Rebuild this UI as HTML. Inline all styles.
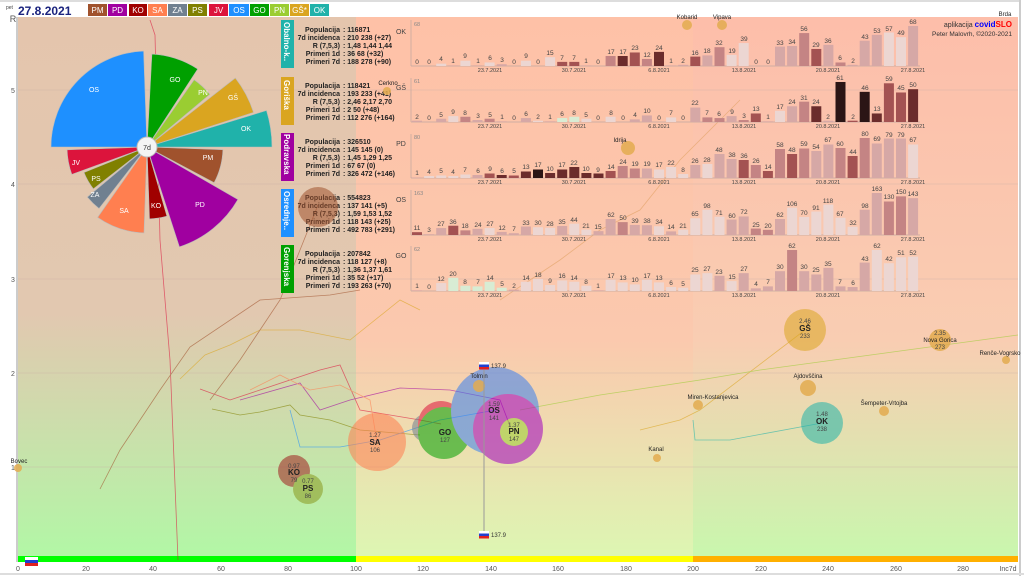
<!DOCTYPE html>
<html><head><meta charset="utf-8"><style>
body{margin:0;background:#fff;width:1024px;height:576px;overflow:hidden}
svg{display:block;font-family:"Liberation Sans","DejaVu Sans",sans-serif}
.v{font-size:6.5px;fill:#444;text-anchor:middle}
.d{font-size:5.5px;fill:#444;text-anchor:middle}
.info{font-size:7px;fill:#222;font-weight:bold}
.ax{font-size:7px;fill:#555}
.a{fill:#ecd6d2}.b{fill:#d6a8a6}.c{fill:#c48484}.dd{fill:#a35252}.e{fill:#6b2c2c}.f{fill:#2b1515}.g{fill:#d8ecd4}
</style></head><body>
<svg width="1024" height="576" viewBox="0 0 1024 576">
<defs>
<linearGradient id="gl" x1="0" y1="0" x2="0" y2="1"><stop offset="0" stop-color="#e4c5ad"/><stop offset="0.55" stop-color="#e2c8b0"/><stop offset="1" stop-color="#b2f7a6"/></linearGradient>
<linearGradient id="gm" x1="0" y1="0" x2="0" y2="1"><stop offset="0" stop-color="#fec1a7"/><stop offset="0.6" stop-color="#fbc9ae"/><stop offset="1" stop-color="#ddf6b2"/></linearGradient>
<linearGradient id="gr" x1="0" y1="0" x2="0" y2="1"><stop offset="0" stop-color="#fdbeaa"/><stop offset="0.6" stop-color="#f9cdb2"/><stop offset="1" stop-color="#c9f7ae"/></linearGradient>
</defs>
<rect x="0" y="0" width="1024" height="576" fill="#fff"/>
<rect x="18" y="17" width="338" height="539" fill="url(#gl)"/>
<rect x="356" y="17" width="337" height="539" fill="url(#gm)"/>
<rect x="693" y="17" width="325" height="539" fill="url(#gr)"/>
<rect x="18" y="556" width="338" height="6" fill="#00ff00"/>
<rect x="356" y="556" width="337" height="6" fill="#ffff00"/>
<rect x="693" y="556" width="325" height="6" fill="#ffb000"/>
<rect x="25" y="557" width="13" height="3" fill="#fff"/><rect x="25" y="560" width="13" height="3" fill="#1e40d0"/><rect x="25" y="563" width="13" height="3" fill="#e02020"/>
<line x1="0" y1="1" x2="1020" y2="1" stroke="#bbb"/><line x1="1020" y1="0" x2="1020" y2="576" stroke="#ccc" stroke-width="2"/><line x1="0" y1="574" x2="1024" y2="574" stroke="#ddd" stroke-width="2"/>
<line x1="17" y1="17" x2="17" y2="562" stroke="#999"/>
<g stroke="#c9b0a8" stroke-width="0.6" opacity="0.7">
<line x1="18" y1="90" x2="1018" y2="90"/><line x1="18" y1="184" x2="1018" y2="184"/><line x1="18" y1="279" x2="1018" y2="279"/><line x1="18" y1="373" x2="1018" y2="373"/><line x1="18" y1="467" x2="1018" y2="467"/>
</g>
<g class="ax" text-anchor="middle">
<text x="13" y="22" font-size="9">R</text><text x="13" y="93">5</text><text x="13" y="187">4</text><text x="13" y="282">3</text><text x="13" y="376">2</text><text x="13" y="470">1</text>
<text x="18" y="571">0</text><text x="86" y="571">20</text><text x="153" y="571">40</text><text x="221" y="571">60</text><text x="288" y="571">80</text><text x="356" y="571">100</text><text x="423" y="571">120</text><text x="491" y="571">140</text><text x="558" y="571">160</text><text x="626" y="571">180</text><text x="693" y="571">200</text><text x="761" y="571">220</text><text x="828" y="571">240</text><text x="896" y="571">260</text><text x="963" y="571">280</text><text x="1008" y="571">Inc7d</text>
</g>
<!-- header legend -->
<text x="6" y="9" font-size="5" fill="#444">pet</text>
<text x="18" y="15" font-size="12" font-weight="bold" fill="#1a237e">27.8.2021</text>
<g font-size="8" fill="#fff" text-anchor="middle">
<rect x="88" y="4" width="19" height="12" fill="#a0522d"/><text x="97.5" y="13">PM</text>
<rect x="108" y="4" width="19" height="12" fill="#a000a0"/><text x="117.5" y="13">PD</text>
<rect x="129" y="4" width="18" height="12" fill="#a00000"/><text x="138" y="13">KO</text>
<rect x="148" y="4" width="19" height="12" fill="#ff7f50"/><text x="157.5" y="13">SA</text>
<rect x="168" y="4" width="19" height="12" fill="#708090"/><text x="177.5" y="13">ZA</text>
<rect x="188" y="4" width="19" height="12" fill="#808000"/><text x="197.5" y="13">PS</text>
<rect x="209" y="4" width="19" height="12" fill="#dc143c"/><text x="218.5" y="13">JV</text>
<rect x="229" y="4" width="20" height="12" fill="#1e90ff"/><text x="239" y="13">OS</text>
<rect x="250" y="4" width="19" height="12" fill="#00a000"/><text x="259.5" y="13">GO</text>
<rect x="270" y="4" width="19" height="12" fill="#9acd32"/><text x="279.5" y="13">PN</text>
<rect x="290" y="4" width="19" height="12" fill="#daa520"/><text x="299.5" y="13">GŠ*</text>
<rect x="310" y="4" width="19" height="12" fill="#20b2aa"/><text x="319.5" y="13">OK</text>
</g>
<!-- trajectories -->
<g fill="none" stroke-width="0.8" opacity="0.6">
<polyline stroke="#dc143c" points="150,20 155,35 160,240 170,360 178,560"/>
<polyline stroke="#a0522d" points="100,489 120,450 160,390 190,347 260,300 330,295 360,290"/>
<polyline stroke="#daa520" points="180,379 205,355 230,345 260,330 300,330 350,340 400,300 420,310"/>
<polyline stroke="#dc143c" points="200,389 230,400 260,390 290,380 320,370 340,365 360,410 420,420 441,424"/>
<polyline stroke="#808000" points="212,409 240,415 260,412 290,405 300,415 330,420 360,430 420,435"/>
<polyline stroke="#1e90ff" points="290,410 300,447 340,447 380,440 440,420 496,410"/>
<polyline stroke="#a000a0" points="240,400 300,383 320,410 350,400 400,388 450,390 500,400 510,426"/>
<polyline stroke="#ff7f50" points="250,390 280,375 310,390 340,385 370,400 377,442"/>
<polyline stroke="#20b2aa" points="693,420 695,440 730,440 822,423"/>
<polyline stroke="#daa520" points="640,430 680,420 700,410 805,330"/>
<polyline stroke="#9acd32" points="520,410 600,395 700,380 760,370 1018,335"/>
<polyline stroke="#e0a060" points="500,300 560,260 600,230 640,210 680,160 720,120 740,100"/>
<polyline stroke="#a0522d" points="318,205 300,250 280,300 260,330 240,360 210,400"/>
</g>
<!-- region info panels -->
<g font-size="8" font-weight="bold" fill="#fff">
<rect x="281" y="20" width="13" height="48" fill="#20b2aa"/><text transform="translate(284,22) rotate(90)">Obalno-k..</text>
<rect x="281" y="77" width="13" height="48" fill="#daa520"/><text transform="translate(284,80) rotate(90)">Goriška</text>
<rect x="281" y="133" width="13" height="48" fill="#a000a0"/><text transform="translate(284,134) rotate(90)">Podravska</text>
<rect x="281" y="189" width="13" height="48" fill="#1e90ff"/><text transform="translate(284,191) rotate(90)">Osrednje..</text>
<rect x="281" y="245" width="13" height="48" fill="#00a000"/><text transform="translate(284,247) rotate(90)">Gorenjska</text>
</g>
<g class="info">
<g text-anchor="end"><text x="340" y="32">Populacija</text><text x="340" y="40">7d incidenca</text><text x="340" y="48">R (7,5,3)</text><text x="340" y="56">Primeri 1d</text><text x="340" y="64">Primeri 7d</text></g>
<text x="343" y="32">: 116871</text><text x="343" y="40">: 210 238 (+27)</text><text x="343" y="48">: 1,48 1,44 1,44</text><text x="343" y="56">: 36 68 (+32)</text><text x="343" y="64">: 188 278 (+90)</text>
<g text-anchor="end"><text x="340" y="88">Populacija</text><text x="340" y="96">7d incidenca</text><text x="340" y="104">R (7,5,3)</text><text x="340" y="112">Primeri 1d</text><text x="340" y="120">Primeri 7d</text></g>
<text x="343" y="88">: 118421</text><text x="343" y="96">: 193 233 (+41)</text><text x="343" y="104">: 2,46 2,17 2,70</text><text x="343" y="112">: 2 50 (+48)</text><text x="343" y="120">: 112 276 (+164)</text>
<g text-anchor="end"><text x="340" y="144">Populacija</text><text x="340" y="152">7d incidenca</text><text x="340" y="160">R (7,5,3)</text><text x="340" y="168">Primeri 1d</text><text x="340" y="176">Primeri 7d</text></g>
<text x="343" y="144">: 326510</text><text x="343" y="152">: 145 145 (0)</text><text x="343" y="160">: 1,45 1,29 1,25</text><text x="343" y="168">: 67 67 (0)</text><text x="343" y="176">: 326 472 (+146)</text>
<g text-anchor="end"><text x="340" y="200">Populacija</text><text x="340" y="208">7d incidenca</text><text x="340" y="216">R (7,5,3)</text><text x="340" y="224">Primeri 1d</text><text x="340" y="232">Primeri 7d</text></g>
<text x="343" y="200">: 554823</text><text x="343" y="208">: 137 141 (+5)</text><text x="343" y="216">: 1,59 1,53 1,52</text><text x="343" y="224">: 118 143 (+25)</text><text x="343" y="232">: 492 783 (+291)</text>
<g text-anchor="end"><text x="340" y="256">Populacija</text><text x="340" y="264">7d incidenca</text><text x="340" y="272">R (7,5,3)</text><text x="340" y="280">Primeri 1d</text><text x="340" y="288">Primeri 7d</text></g>
<text x="343" y="256">: 207842</text><text x="343" y="264">: 118 127 (+8)</text><text x="343" y="272">: 1,36 1,37 1,61</text><text x="343" y="280">: 35 52 (+17)</text><text x="343" y="288">: 193 263 (+70)</text>
</g>
<!-- pie -->
<g stroke="#bbb" stroke-width="0.6">
<path d="M147,147 L51,147 A96,96 0 0 1 143.6,51.1 Z" fill="#1e90ff"/>
<path d="M147,147 L151.9,54.1 A93,93 0 0 1 197.7,69 Z" fill="#00a000"/>
<path d="M147,147 L194.1,79.8 A82,82 0 0 1 209.8,94.3 Z" fill="#9acd32"/>
<path d="M147,147 L235.3,78 A112,112 0 0 1 253.5,112.4 Z" fill="#daa520"/>
<path d="M147,147 L266.5,110.5 A125,125 0 0 1 272,147 Z" fill="#20b2aa"/>
<path d="M147,147 L222.9,149.7 A76,76 0 0 1 214.1,182.7 Z" fill="#a0522d"/>
<path d="M147,147 L237.9,199.5 A105,105 0 0 1 179.4,246.9 Z" fill="#a000a0"/>
<path d="M147,147 L166.9,216.2 A72,72 0 0 1 149.5,218.9 Z" fill="#a00000"/>
<path d="M147,147 L144,232.9 A86,86 0 0 1 97.6,217.4 Z" fill="#ff7f50"/>
<path d="M147,147 L99,208.5 A78,78 0 0 1 87.3,197.1 Z" fill="#708090"/>
<path d="M147,147 L93.4,188.9 A68,68 0 0 1 84,172.5 Z" fill="#808000"/>
<path d="M147,147 L71.8,174.4 A80,80 0 0 1 67.1,149.8 Z" fill="#dc143c"/>
</g>
<g font-size="7" fill="#fff" text-anchor="middle">
<text x="94" y="92">OS</text><text x="175" y="82">GO</text><text x="203" y="95">PN</text><text x="233" y="100">GŠ</text><text x="246" y="131">OK</text><text x="208" y="160">PM</text><text x="200" y="207">PD</text><text x="156" y="208">KO</text><text x="124" y="213">SA</text><text x="95" y="197">ZA</text><text x="96" y="181">PS</text><text x="76" y="165">JV</text>
</g>
<circle cx="147" cy="147" r="10" fill="#f4f4f4" stroke="#bbb"/><text x="147" y="150" font-size="7" text-anchor="middle" fill="#333">7d</text>
<!-- bubbles -->
<circle cx="318" cy="207" r="20" fill="#a0522d" opacity="0.55"/>
<g opacity="0.55">
<circle cx="294" cy="471" r="16" fill="#a02020"/>
<circle cx="308" cy="489" r="15" fill="#8a9a20"/>
<circle cx="377" cy="442" r="29" fill="#ff7f50"/>
<circle cx="426" cy="428" r="14" fill="#708090"/>
<circle cx="441" cy="424" r="23" fill="#dc143c"/>
<circle cx="444" cy="433" r="26" fill="#00a000"/>
<circle cx="495" cy="411" r="44" fill="#3a80f0"/>
<circle cx="508" cy="429" r="35" fill="#a000c0"/>
<circle cx="514" cy="432" r="14" fill="#9acd32"/>
<circle cx="805" cy="330" r="21" fill="#daa520"/>
<circle cx="822" cy="423" r="21" fill="#20b2aa"/>
</g>
<g fill="#e3ac50" opacity="0.85">
<circle cx="18" cy="468" r="4"/><circle cx="479" cy="386" r="6"/><circle cx="657" cy="458" r="4"/><circle cx="698" cy="405" r="5"/><circle cx="808" cy="388" r="8"/><circle cx="884" cy="411" r="5"/><circle cx="940" cy="340" r="11"/><circle cx="1006" cy="360" r="4"/><circle cx="687" cy="25" r="5"/><circle cx="722" cy="25" r="5"/><circle cx="387" cy="91" r="4"/><circle cx="628" cy="148" r="7"/>
</g>
<g font-size="6" fill="#222" text-anchor="middle">
<text x="19" y="463">Bovec</text><text x="479" y="378">Tolmin</text><text x="656" y="451">Kanal</text><text x="713" y="399">Miren-Kostanjevica</text><text x="808" y="378">Ajdovščina</text><text x="884" y="405">Šempeter-Vrtojba</text><text x="940" y="342">Nova Gorica</text><text x="1000" y="355">Renče-Vogrsko</text><text x="687" y="19">Kobarid</text><text x="722" y="19">Vipava</text><text x="388" y="85">Cerkno</text><text x="620" y="142">Idrija</text><text x="1005" y="16">Brda</text>
<text x="294" y="468" fill="#444">0.97</text><text x="294" y="475" font-size="8" font-weight="bold">KO</text><text x="294" y="482" fill="#444">79</text>
<text x="308" y="483" fill="#444">0.77</text><text x="308" y="491" font-size="8" font-weight="bold">PS</text><text x="308" y="498" fill="#444">86</text>
<text x="375" y="437" fill="#444">1.27</text><text x="375" y="445" font-size="8" font-weight="bold">SA</text><text x="375" y="452" fill="#444">106</text>
<text x="445" y="435" font-size="8" font-weight="bold">GO</text><text x="445" y="442" fill="#444">127</text>
<text x="494" y="406" fill="#444">1.59</text><text x="494" y="413" font-size="8" font-weight="bold">OS</text><text x="494" y="420" fill="#444">141</text>
<text x="514" y="427" fill="#444">1.37</text><text x="514" y="434" font-size="8" font-weight="bold">PN</text><text x="514" y="441" fill="#444">147</text>
<text x="805" y="323" fill="#444">2.46</text><text x="805" y="331" font-size="8" font-weight="bold">GŠ</text><text x="805" y="338" fill="#444">233</text>
<text x="822" y="416" fill="#444">1.48</text><text x="822" y="424" font-size="8" font-weight="bold">OK</text><text x="822" y="431" fill="#444">238</text>
<text x="940" y="335" fill="#444">2.35</text><text x="940" y="349" fill="#444">273</text>
</g>
<line x1="484" y1="370" x2="484" y2="532" stroke="#999"/>
<g><rect x="479" y="362" width="10" height="2.5" fill="#fff"/><rect x="479" y="364.5" width="10" height="2.5" fill="#2040d0"/><rect x="479" y="367" width="10" height="2.5" fill="#e02020"/>
<rect x="479" y="531" width="10" height="2.5" fill="#fff"/><rect x="479" y="533.5" width="10" height="2.5" fill="#2040d0"/><rect x="479" y="536" width="10" height="2.5" fill="#e02020"/></g>
<text x="491" y="368" font-size="6" fill="#333">137.9</text><text x="491" y="537" font-size="6" fill="#333">137.9</text>
<text x="1012" y="27" font-size="7" fill="#333" text-anchor="end">aplikacija <tspan fill="#0000ff" font-weight="bold" font-size="8">covid</tspan><tspan fill="#ff0000" font-weight="bold" font-size="8">SLO</tspan></text>
<text x="1012" y="36" font-size="6.5" fill="#333" text-anchor="end">Peter Malovrh, ©2020-2021</text>

<!-- bar panels: axes -->
<g stroke="#bfa7a0" stroke-width="0.7">
<line x1="411" y1="20" x2="411" y2="66"/><line x1="411" y1="66" x2="920" y2="66"/>
<line x1="411" y1="78" x2="411" y2="122"/><line x1="411" y1="122" x2="920" y2="122"/>
<line x1="411" y1="134" x2="411" y2="178"/><line x1="411" y1="178" x2="920" y2="178"/>
<line x1="411" y1="190" x2="411" y2="235"/><line x1="411" y1="235" x2="920" y2="235"/>
<line x1="411" y1="246" x2="411" y2="291"/><line x1="411" y1="291" x2="920" y2="291"/>
</g>
<g font-size="7" fill="#444" text-anchor="middle"><text x="401" y="34">OK</text><text x="401" y="90">GŠ</text><text x="401" y="146">PD</text><text x="401" y="202">OS</text><text x="401" y="258">GO</text></g>
<g font-size="5.5" fill="#888"><text x="414" y="26">68</text><text x="414" y="83">61</text><text x="414" y="139">80</text><text x="414" y="195">163</text><text x="414" y="251">62</text></g>
<g class="d">
<text x="490" y="72">23.7.2021</text><text x="574" y="72">30.7.2021</text><text x="659" y="72">6.8.2021</text><text x="744" y="72">13.8.2021</text><text x="828" y="72">20.8.2021</text><text x="913" y="72">27.8.2021</text>
<text x="490" y="128">23.7.2021</text><text x="574" y="128">30.7.2021</text><text x="659" y="128">6.8.2021</text><text x="744" y="128">13.8.2021</text><text x="828" y="128">20.8.2021</text><text x="913" y="128">27.8.2021</text>
<text x="490" y="184">23.7.2021</text><text x="574" y="184">30.7.2021</text><text x="659" y="184">6.8.2021</text><text x="744" y="184">13.8.2021</text><text x="828" y="184">20.8.2021</text><text x="913" y="184">27.8.2021</text>
<text x="490" y="241">23.7.2021</text><text x="574" y="241">30.7.2021</text><text x="659" y="241">6.8.2021</text><text x="744" y="241">13.8.2021</text><text x="828" y="241">20.8.2021</text><text x="913" y="241">27.8.2021</text>
<text x="490" y="297">23.7.2021</text><text x="574" y="297">30.7.2021</text><text x="659" y="297">6.8.2021</text><text x="744" y="297">13.8.2021</text><text x="828" y="297">20.8.2021</text><text x="913" y="297">27.8.2021</text>
</g>

<!-- OK panel -->
<g transform="translate(-5,66) scale(1,-0.588)" class="b">
<rect x="417" width="10" height="0"/><rect x="429.1" width="10" height="0"/><rect x="441.2" width="10" height="4" class="a"/><rect x="453.3" width="10" height="1"/><rect x="465.4" width="10" height="9" class="a"/><rect x="477.5" width="10" height="1"/><rect x="489.6" width="10" height="6" class="a"/><rect x="501.7" width="10" height="3"/><rect x="513.8" width="10" height="0"/><rect x="525.9" width="10" height="9" class="a"/><rect x="538" width="10" height="0"/><rect x="550.1" width="10" height="15" class="a"/><rect x="562.2" width="10" height="7" class="dd"/><rect x="574.3" width="10" height="7" class="dd"/><rect x="586.4" width="10" height="1"/><rect x="598.5" width="10" height="0"/><rect x="610.6" width="10" height="17" class="c"/><rect x="622.7" width="10" height="17" class="e"/><rect x="634.8" width="10" height="23" class="dd"/><rect x="646.9" width="10" height="12" class="c"/><rect x="659" width="10" height="24" class="e"/><rect x="671.1" width="10" height="1"/><rect x="683.2" width="10" height="2"/><rect x="695.3" width="10" height="16" class="dd"/><rect x="707.4" width="10" height="18"/><rect x="719.5" width="10" height="32" class="c"/><rect x="731.6" width="10" height="19" class="a"/><rect x="743.7" width="10" height="39" class="a"/><rect x="755.8" width="10" height="0"/><rect x="767.9" width="10" height="0"/><rect x="780" width="10" height="33"/><rect x="792.1" width="10" height="34"/><rect x="804.2" width="10" height="56" class="c"/><rect x="816.3" width="10" height="29" class="dd"/><rect x="828.4" width="10" height="36"/><rect x="840.5" width="10" height="6" class="c"/><rect x="852.6" width="10" height="2"/><rect x="864.7" width="10" height="43"/><rect x="876.8" width="10" height="53"/><rect x="888.9" width="10" height="57" class="a"/><rect x="901" width="10" height="49" class="a"/><rect x="913.1" width="10" height="68"/>
</g>
<g class="v">
<text x="417" y="64">0</text><text x="429" y="64">0</text><text x="441" y="61">4</text><text x="453" y="63">1</text><text x="465" y="58">9</text><text x="478" y="63">1</text><text x="490" y="60">6</text><text x="502" y="62">3</text><text x="514" y="64">0</text><text x="526" y="58">9</text><text x="538" y="64">0</text><text x="550" y="55">15</text><text x="562" y="60">7</text><text x="574" y="60">7</text><text x="586" y="63">1</text><text x="598" y="64">0</text><text x="611" y="54">17</text><text x="623" y="54">17</text><text x="635" y="50">23</text><text x="647" y="57">12</text><text x="659" y="50">24</text><text x="671" y="63">1</text><text x="683" y="63">2</text><text x="695" y="55">16</text><text x="707" y="53">18</text><text x="719" y="45">32</text><text x="732" y="53">19</text><text x="744" y="41">39</text><text x="756" y="64">0</text><text x="768" y="64">0</text><text x="780" y="45">33</text><text x="792" y="44">34</text><text x="804" y="31">56</text><text x="816" y="47">29</text><text x="828" y="43">36</text><text x="840" y="60">6</text><text x="853" y="63">2</text><text x="865" y="39">43</text><text x="877" y="33">53</text><text x="889" y="31">57</text><text x="901" y="35">49</text><text x="913" y="24">68</text>
</g>

<!-- GS panel -->
<g transform="translate(-5,122) scale(1,-0.656)" class="b">
<rect x="417" width="10" height="2"/><rect x="429.1" width="10" height="0"/><rect x="441.2" width="10" height="5"/><rect x="453.3" width="10" height="9" class="a"/><rect x="465.4" width="10" height="8" class="c"/><rect x="477.5" width="10" height="3"/><rect x="489.6" width="10" height="5" class="c"/><rect x="501.7" width="10" height="1"/><rect x="513.8" width="10" height="0"/><rect x="525.9" width="10" height="6"/><rect x="538" width="10" height="2" class="a"/><rect x="550.1" width="10" height="1"/><rect x="562.2" width="10" height="6" class="g"/><rect x="574.3" width="10" height="8" class="g"/><rect x="586.4" width="10" height="5" class="a"/><rect x="598.5" width="10" height="0"/><rect x="610.6" width="10" height="8" class="a"/><rect x="622.7" width="10" height="0"/><rect x="634.8" width="10" height="4"/><rect x="646.9" width="10" height="10"/><rect x="659" width="10" height="0"/><rect x="671.1" width="10" height="7" class="a"/><rect x="683.2" width="10" height="0"/><rect x="695.3" width="10" height="22"/><rect x="707.4" width="10" height="7" class="c"/><rect x="719.5" width="10" height="6" class="c"/><rect x="731.6" width="10" height="9"/><rect x="743.7" width="10" height="3" class="c"/><rect x="755.8" width="10" height="13" class="dd"/><rect x="767.9" width="10" height="1"/><rect x="780" width="10" height="17" class="a"/><rect x="792.1" width="10" height="24"/><rect x="804.2" width="10" height="31" class="c"/><rect x="816.3" width="10" height="24" class="e"/><rect x="828.4" width="10" height="2"/><rect x="840.5" width="10" height="61" class="f"/><rect x="852.6" width="10" height="2" class="dd"/><rect x="864.7" width="10" height="46" class="f"/><rect x="876.8" width="10" height="13" class="e"/><rect x="888.9" width="10" height="59" class="dd"/><rect x="901" width="10" height="45" class="dd"/><rect x="913.1" width="10" height="50" class="e"/>
</g>
<g class="v">
<text x="417" y="119">2</text><text x="429" y="120">0</text><text x="441" y="117">5</text><text x="453" y="114">9</text><text x="465" y="115">8</text><text x="478" y="118">3</text><text x="490" y="117">5</text><text x="502" y="119">1</text><text x="514" y="120">0</text><text x="526" y="116">6</text><text x="538" y="119">2</text><text x="550" y="119">1</text><text x="562" y="116">6</text><text x="574" y="115">8</text><text x="586" y="117">5</text><text x="598" y="120">0</text><text x="611" y="115">8</text><text x="623" y="120">0</text><text x="635" y="117">4</text><text x="647" y="113">10</text><text x="659" y="120">0</text><text x="671" y="115">7</text><text x="683" y="120">0</text><text x="695" y="105">22</text><text x="707" y="115">7</text><text x="719" y="116">6</text><text x="732" y="114">9</text><text x="744" y="118">3</text><text x="756" y="111">13</text><text x="768" y="119">1</text><text x="780" y="109">17</text><text x="792" y="104">24</text><text x="804" y="100">31</text><text x="816" y="104">24</text><text x="828" y="119">2</text><text x="840" y="80">61</text><text x="853" y="119">2</text><text x="865" y="90">46</text><text x="877" y="111">13</text><text x="889" y="81">59</text><text x="901" y="90">45</text><text x="913" y="87">50</text>
</g>

<!-- PD panel -->
<g transform="translate(-5,178) scale(1,-0.5)" class="b">
<rect x="417" width="10" height="1"/><rect x="429.1" width="10" height="4" class="a"/><rect x="441.2" width="10" height="5" class="a"/><rect x="453.3" width="10" height="4" class="a"/><rect x="465.4" width="10" height="7" class="a"/><rect x="477.5" width="10" height="6"/><rect x="489.6" width="10" height="9" class="dd"/><rect x="501.7" width="10" height="6" class="e"/><rect x="513.8" width="10" height="5" class="dd"/><rect x="525.9" width="10" height="13" class="e"/><rect x="538" width="10" height="17" class="f"/><rect x="550.1" width="10" height="10" class="e"/><rect x="562.2" width="10" height="17" class="e"/><rect x="574.3" width="10" height="22" class="e"/><rect x="586.4" width="10" height="10" class="e"/><rect x="598.5" width="10" height="9" class="e"/><rect x="610.6" width="10" height="14" class="dd"/><rect x="622.7" width="10" height="24" class="c"/><rect x="634.8" width="10" height="19" class="c"/><rect x="646.9" width="10" height="19"/><rect x="659" width="10" height="17" class="a"/><rect x="671.1" width="10" height="22" class="a"/><rect x="683.2" width="10" height="8" class="a"/><rect x="695.3" width="10" height="26"/><rect x="707.4" width="10" height="28" class="a"/><rect x="719.5" width="10" height="48"/><rect x="731.6" width="10" height="38"/><rect x="743.7" width="10" height="36" class="dd"/><rect x="755.8" width="10" height="26" class="c"/><rect x="767.9" width="10" height="14" class="dd"/><rect x="780" width="10" height="58" class="c"/><rect x="792.1" width="10" height="48" class="dd"/><rect x="804.2" width="10" height="59" class="c"/><rect x="816.3" width="10" height="54"/><rect x="828.4" width="10" height="67"/><rect x="840.5" width="10" height="60" class="c"/><rect x="852.6" width="10" height="44" class="dd"/><rect x="864.7" width="10" height="80" class="c"/><rect x="876.8" width="10" height="69"/><rect x="888.9" width="10" height="79"/><rect x="901" width="10" height="79"/><rect x="913.1" width="10" height="67" class="a"/>
</g>
<g class="v">
<text x="417" y="175">1</text><text x="429" y="174">4</text><text x="441" y="173">5</text><text x="453" y="174">4</text><text x="465" y="172">7</text><text x="478" y="173">6</text><text x="490" y="171">9</text><text x="502" y="173">6</text><text x="514" y="173">5</text><text x="526" y="169">13</text><text x="538" y="167">17</text><text x="550" y="171">10</text><text x="562" y="167">17</text><text x="574" y="165">22</text><text x="586" y="171">10</text><text x="598" y="172">9</text><text x="611" y="169">14</text><text x="623" y="164">24</text><text x="635" y="166">19</text><text x="647" y="166">19</text><text x="659" y="167">17</text><text x="671" y="165">22</text><text x="683" y="172">8</text><text x="695" y="163">26</text><text x="707" y="162">28</text><text x="719" y="152">48</text><text x="732" y="157">38</text><text x="744" y="158">36</text><text x="756" y="163">26</text><text x="768" y="169">14</text><text x="780" y="147">58</text><text x="792" y="152">48</text><text x="804" y="146">59</text><text x="816" y="149">54</text><text x="828" y="142">67</text><text x="840" y="146">60</text><text x="853" y="154">44</text><text x="865" y="136">80</text><text x="877" y="141">69</text><text x="889" y="137">79</text><text x="901" y="137">79</text><text x="913" y="142">67</text>
</g>

<!-- OS panel -->
<g transform="translate(-5,235) scale(1,-0.2577)" class="b">
<rect x="417" width="10" height="11" class="dd"/><rect x="429.1" width="10" height="3"/><rect x="441.2" width="10" height="27"/><rect x="453.3" width="10" height="36" class="dd"/><rect x="465.4" width="10" height="18" class="c"/><rect x="477.5" width="10" height="24"/><rect x="489.6" width="10" height="27" class="a"/><rect x="501.7" width="10" height="12"/><rect x="513.8" width="10" height="7"/><rect x="525.9" width="10" height="33"/><rect x="538" width="10" height="30" class="a"/><rect x="550.1" width="10" height="28" class="a"/><rect x="562.2" width="10" height="35"/><rect x="574.3" width="10" height="44" class="a"/><rect x="586.4" width="10" height="21" class="a"/><rect x="598.5" width="10" height="15"/><rect x="610.6" width="10" height="62"/><rect x="622.7" width="10" height="50" class="c"/><rect x="634.8" width="10" height="39"/><rect x="646.9" width="10" height="38"/><rect x="659" width="10" height="34" class="a"/><rect x="671.1" width="10" height="14"/><rect x="683.2" width="10" height="21" class="a"/><rect x="695.3" width="10" height="65" class="a"/><rect x="707.4" width="10" height="98" class="a"/><rect x="719.5" width="10" height="71" class="a"/><rect x="731.6" width="10" height="60"/><rect x="743.7" width="10" height="72"/><rect x="755.8" width="10" height="25" class="c"/><rect x="767.9" width="10" height="20" class="c"/><rect x="780" width="10" height="62"/><rect x="792.1" width="10" height="106" class="a"/><rect x="804.2" width="10" height="70" class="a"/><rect x="816.3" width="10" height="91" class="a"/><rect x="828.4" width="10" height="118" class="a"/><rect x="840.5" width="10" height="67" class="a"/><rect x="852.6" width="10" height="32" class="a"/><rect x="864.7" width="10" height="98"/><rect x="876.8" width="10" height="163"/><rect x="888.9" width="10" height="130" class="c"/><rect x="901" width="10" height="150" class="c"/><rect x="913.1" width="10" height="143"/>
</g>
<g class="v">
<text x="417" y="230">11</text><text x="429" y="232">3</text><text x="441" y="226">27</text><text x="453" y="224">36</text><text x="465" y="228">18</text><text x="478" y="227">24</text><text x="490" y="226">27</text><text x="502" y="230">12</text><text x="514" y="231">7</text><text x="526" y="225">33</text><text x="538" y="225">30</text><text x="550" y="226">28</text><text x="562" y="224">35</text><text x="574" y="222">44</text><text x="586" y="228">21</text><text x="598" y="229">15</text><text x="611" y="217">62</text><text x="623" y="220">50</text><text x="635" y="223">39</text><text x="647" y="223">38</text><text x="659" y="224">34</text><text x="671" y="229">14</text><text x="683" y="228">21</text><text x="695" y="216">65</text><text x="707" y="208">98</text><text x="719" y="215">71</text><text x="732" y="218">60</text><text x="744" y="214">72</text><text x="756" y="227">25</text><text x="768" y="228">20</text><text x="780" y="217">62</text><text x="792" y="206">106</text><text x="804" y="215">70</text><text x="816" y="210">91</text><text x="828" y="203">118</text><text x="840" y="216">67</text><text x="853" y="225">32</text><text x="865" y="208">98</text><text x="877" y="191">163</text><text x="889" y="199">130</text><text x="901" y="194">150</text><text x="913" y="196">143</text>
</g>

<!-- GO panel -->
<g transform="translate(-5,291) scale(1,-0.661)" class="b">
<rect x="417" width="10" height="1"/><rect x="429.1" width="10" height="0"/><rect x="441.2" width="10" height="12" class="a"/><rect x="453.3" width="10" height="20" class="g"/><rect x="465.4" width="10" height="8" class="g"/><rect x="477.5" width="10" height="7" class="g"/><rect x="489.6" width="10" height="14" class="g"/><rect x="501.7" width="10" height="5" class="g"/><rect x="513.8" width="10" height="2"/><rect x="525.9" width="10" height="14" class="a"/><rect x="538" width="10" height="18" class="a"/><rect x="550.1" width="10" height="9" class="a"/><rect x="562.2" width="10" height="16" class="a"/><rect x="574.3" width="10" height="14" class="a"/><rect x="586.4" width="10" height="8" class="a"/><rect x="598.5" width="10" height="1"/><rect x="610.6" width="10" height="17" class="a"/><rect x="622.7" width="10" height="13" class="a"/><rect x="634.8" width="10" height="10" class="a"/><rect x="646.9" width="10" height="17" class="a"/><rect x="659" width="10" height="13" class="a"/><rect x="671.1" width="10" height="6" class="a"/><rect x="683.2" width="10" height="5" class="a"/><rect x="695.3" width="10" height="25" class="a"/><rect x="707.4" width="10" height="27" class="a"/><rect x="719.5" width="10" height="23"/><rect x="731.6" width="10" height="15" class="a"/><rect x="743.7" width="10" height="27"/><rect x="755.8" width="10" height="4"/><rect x="767.9" width="10" height="7"/><rect x="780" width="10" height="30"/><rect x="792.1" width="10" height="62" class="c"/><rect x="804.2" width="10" height="30"/><rect x="816.3" width="10" height="25"/><rect x="828.4" width="10" height="35"/><rect x="840.5" width="10" height="7"/><rect x="852.6" width="10" height="6"/><rect x="864.7" width="10" height="43"/><rect x="876.8" width="10" height="62" class="a"/><rect x="888.9" width="10" height="42" class="a"/><rect x="901" width="10" height="51" class="a"/><rect x="913.1" width="10" height="52" class="a"/>
</g>
<g class="v">
<text x="417" y="288">1</text><text x="429" y="289">0</text><text x="441" y="281">12</text><text x="453" y="276">20</text><text x="465" y="284">8</text><text x="478" y="284">7</text><text x="490" y="280">14</text><text x="502" y="286">5</text><text x="514" y="288">2</text><text x="526" y="280">14</text><text x="538" y="277">18</text><text x="550" y="283">9</text><text x="562" y="278">16</text><text x="574" y="280">14</text><text x="586" y="284">8</text><text x="598" y="288">1</text><text x="611" y="278">17</text><text x="623" y="280">13</text><text x="635" y="282">10</text><text x="647" y="278">17</text><text x="659" y="280">13</text><text x="671" y="285">6</text><text x="683" y="286">5</text><text x="695" y="272">25</text><text x="707" y="271">27</text><text x="719" y="274">23</text><text x="732" y="279">15</text><text x="744" y="271">27</text><text x="756" y="286">4</text><text x="768" y="284">7</text><text x="780" y="269">30</text><text x="792" y="248">62</text><text x="804" y="269">30</text><text x="816" y="272">25</text><text x="828" y="266">35</text><text x="840" y="284">7</text><text x="853" y="285">6</text><text x="865" y="261">43</text><text x="877" y="248">62</text><text x="889" y="261">42</text><text x="901" y="255">51</text><text x="913" y="255">52</text>
</g>
</svg>
</body></html>
